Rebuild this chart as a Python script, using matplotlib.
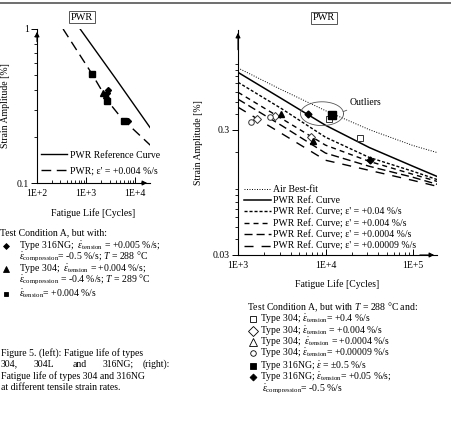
import numpy as np
import matplotlib
matplotlib.use("Agg")
import matplotlib.pyplot as plt
from matplotlib.lines import Line2D
from matplotlib.ticker import FixedLocator, NullFormatter, LogLocator

plt.rcParams['font.family'] = ['Liberation Serif', 'DejaVu Serif']
plt.rcParams['mathtext.fontset'] = 'custom'
plt.rcParams['mathtext.rm'] = 'Liberation Serif'
plt.rcParams['mathtext.it'] = 'Liberation Serif:italic'
plt.rcParams['lines.scale_dashes'] = False
FS = 7

# ---------------- left panel data (cycles, strain amplitude %) ----------------
left_ref_N = [755, 3908, 20230]
left_ref_amp = [1.0, 0.481, 0.228]
left_rate_N = [340, 1306, 2851, 5346, 20230]
left_rate_amp = [1.0, 0.513, 0.336, 0.262, 0.176]

left_sq_N = [1324, 2684, 5970]
left_sq_amp = [0.51, 0.341, 0.253]
left_tri_N = [2224, 2500]
left_tri_amp = [0.384, 0.37]
left_dia_N = [2850, 2700, 7195]
left_dia_amp = [0.40, 0.385, 0.253]

# ---------------- right panel data ----------------
right_N = [1000, 3162, 10000, 31623, 100000, 188000]
air_amp = [0.931, 0.623, 0.425, 0.300, 0.224, 0.197]
ref_amp = [0.859, 0.529, 0.325, 0.216, 0.153, 0.127]
rate004_amp = [0.716, 0.440, 0.261, 0.180, 0.1395, 0.120]
rate0004_amp = [0.596, 0.367, 0.2256, 0.1675, 0.132, 0.116]
rate00004_amp = [0.525, 0.323, 0.195, 0.153, 0.125, 0.110]
rate000009_amp = [0.453, 0.279, 0.171, 0.142, 0.118, 0.106]

osq_N = [10960, 24770]
osq_amp = [0.367, 0.259]
odia_N = [1649, 2649, 6823]
odia_amp = [0.367, 0.387, 0.264]
ocir_N = [1409, 2321]
ocir_amp = [0.347, 0.380]
ftri_N = [3099, 7194]
ftri_amp = [0.402, 0.245]
fsq_N = [11860]
fsq_amp = [0.395]
fdia_N = [6310, 32280]
fdia_amp = [0.402, 0.173]

W, H = 452, 423
fig = plt.figure(figsize=(W / 100, H / 100), dpi=100)


def fx(px):
    return px / W


def fy(py):
    return 1 - py / H


def style_axes(ax):
    for s in ['top', 'right']:
        ax.spines[s].set_visible(False)
    for s in ['left', 'bottom']:
        ax.spines[s].set_linewidth(0.8)
    ax.tick_params(axis='x', which='both', direction='in', labelsize=FS, pad=4)
    ax.tick_params(axis='y', which='both', direction='out', labelsize=FS, pad=2)
    ax.tick_params(which='major', length=4, width=0.7)
    ax.tick_params(which='minor', length=2.5, width=0.6)
    ax.patch.set_alpha(0)
    arr = dict(arrowstyle='-|>', color='black', lw=0.8, mutation_scale=7)
    ax.annotate('', xy=(1.0, 0), xytext=(0.9, 0), xycoords='axes fraction', arrowprops=arr)
    ax.annotate('', xy=(0, 1.0), xytext=(0, 0.9), xycoords='axes fraction', arrowprops=arr)


# ================= left panel =================
axL = fig.add_axes([fx(37), fy(183), fx(150) - fx(37), fy(29) - fy(183)])
axL.set_xscale('log')
axL.set_yscale('log')
axL.set_xlim(100, 10 ** 4.3)
axL.set_ylim(0.1, 1.0)
axL.plot(left_ref_N, left_ref_amp, color='black', lw=1.0, label='PWR Reference Curve')
axL.plot(left_rate_N, left_rate_amp, color='black', lw=1.0, dashes=(7, 4),
         label="PWR; ε' = +0.004 %/s")
axL.plot(left_sq_N, left_sq_amp, 's', color='black', ms=4)
axL.plot(left_tri_N, left_tri_amp, '^', color='black', ms=4)
axL.plot(left_dia_N, left_dia_amp, 'D', color='black', ms=3)
axL.set_xticks([100, 1000, 10000])
axL.set_xticklabels(['1E+2', '1E+3', '1E+4'])
axL.set_yticks([0.1, 1.0])
axL.set_yticklabels(['0.1', '1'])
axL.xaxis.set_minor_locator(LogLocator(base=10, subs=np.arange(2, 10)))
axL.xaxis.set_minor_formatter(NullFormatter())
axL.yaxis.set_minor_locator(LogLocator(base=10, subs=np.arange(2, 10)))
axL.yaxis.set_minor_formatter(NullFormatter())
style_axes(axL)
axL.set_xlabel('Fatigue Life [Cycles]', fontsize=FS)
axL.xaxis.set_label_coords(0.5, -0.165)
axL.set_ylabel('Strain Amplitude [%]', fontsize=FS)
axL.yaxis.set_label_coords(-0.24, 0.5)
axL.legend(loc='center left', bbox_to_anchor=(fx(41), fy(163)), bbox_transform=fig.transFigure,
           frameon=False, fontsize=FS, handlelength=2.7, handletextpad=0.25,
           labelspacing=0.65, borderpad=0, borderaxespad=0)

# ================= right panel =================
axR = fig.add_axes([fx(238), fy(255), fx(437) - fx(238), fy(30) - fy(255)])
axR.set_xscale('log')
axR.set_yscale('log')
axR.set_xlim(1000, 10 ** 5.274)
axR.set_ylim(0.03, 1.87)
axR.plot(right_N, air_amp, color='black', lw=0.7, dashes=(0.7, 1.1), label='Air Best-fit')
axR.plot(right_N, ref_amp, color='black', lw=1.1, label='PWR Ref. Curve')
axR.plot(right_N, rate004_amp, color='black', lw=1.0, dashes=(2.2, 1.4),
         label="PWR Ref. Curve; ε' = +0.04 %/s")
axR.plot(right_N, rate0004_amp, color='black', lw=1.0, dashes=(3.6, 2.9),
         label="PWR Ref. Curve; ε' = +0.004 %/s")
axR.plot(right_N, rate00004_amp, color='black', lw=1.0, dashes=(5.8, 2.9),
         label="PWR Ref. Curve; ε' = +0.0004 %/s")
axR.plot(right_N, rate000009_amp, color='black', lw=1.0, dashes=(6.5, 5.8),
         label="PWR Ref. Curve; ε' = +0.00009 %/s")

axR.plot(osq_N, osq_amp, 's', mfc='white', mec='#333333', mew=0.7, ms=5)
axR.plot(odia_N, odia_amp, 'D', mfc='white', mec='#333333', mew=0.7, ms=4)
axR.plot(ocir_N, ocir_amp, 'o', mfc='white', mec='#333333', mew=0.7, ms=4)
axR.plot(ftri_N, ftri_amp, '^', color='black', ms=5)
axR.plot(fsq_N, fsq_amp, 's', color='black', ms=6)
axR.plot(fdia_N, fdia_amp, 'D', color='black', ms=3.5)

# outliers ellipse and label
t = np.linspace(0, 2 * np.pi, 200)
cx, cy, ax_w, ax_h = 3.96, np.log10(0.402), 0.246, 0.095
axR.plot(10 ** (cx + ax_w * np.cos(t)), 10 ** (cy + ax_h * np.sin(t)), color='#555555', lw=0.6)
axR.annotate('Outliers', xy=(10 ** 4.2, 0.417), xytext=(10 ** 4.27, 0.49), fontsize=FS,
             va='center', ha='left',
             arrowprops=dict(arrowstyle='-', color='#555555', lw=0.6, shrinkA=0, shrinkB=0))

axR.set_xticks([1000, 10000, 100000])
axR.set_xticklabels(['1E+3', '1E+4', '1E+5'])
axR.yaxis.set_major_locator(FixedLocator([0.03, 0.3]))
axR.set_yticklabels(['0.03', '0.3'])
axR.xaxis.set_minor_locator(LogLocator(base=10, subs=np.arange(2, 10)))
axR.xaxis.set_minor_formatter(NullFormatter())
axR.yaxis.set_minor_locator(LogLocator(base=10, subs=np.arange(1, 10)))
axR.yaxis.set_minor_formatter(NullFormatter())
style_axes(axR)
axR.set_xlabel('Fatigue Life [Cycles]', fontsize=FS)
axR.xaxis.set_label_coords(0.5, -0.11)
axR.set_ylabel('Strain Amplitude [%]', fontsize=FS)
axR.yaxis.set_label_coords(-0.175, 0.5)
axR.legend(loc='center left', bbox_to_anchor=(fx(244), fy(218)), bbox_transform=fig.transFigure,
           frameon=False, fontsize=FS, handlelength=2.8, handletextpad=0.2,
           labelspacing=0.23, borderpad=0, borderaxespad=0)

# ================= boxed titles & page rule =================
box = dict(boxstyle='square,pad=0.15', fc='white', ec='#555555', lw=0.7)
fig.text(fx(82), fy(17), 'PWR', fontsize=7.5, ha='center', va='center', bbox=box)
fig.text(fx(324), fy(18), 'PWR', fontsize=7.5, ha='center', va='center', bbox=box)
fig.add_artist(Line2D([0, 1], [fy(3), fy(3)], transform=fig.transFigure, color='#555555', lw=1.2))

# ================= text blocks =================
eps = r'$\dot{\varepsilon}$'
ten = r'$\dot{\varepsilon}_{\rm tension}$'
comp = r'$\dot{\varepsilon}_{\rm compression}$'


def mark(px, py, m, ms, filled=True):
    fig.add_artist(Line2D([fx(px)], [fy(py)], marker=m, ms=ms, transform=fig.transFigure,
                          mfc='black' if filled else 'white', mec='black', mew=0.6, ls='none'))


def txt(px, py, s):
    fig.text(fx(px), fy(py), s, fontsize=FS, ha='left', va='center')


txt(0, 233, 'Test Condition A, but with:')
mark(6, 246, 'D', 3)
txt(19, 246, 'Type 316NG;  ' + ten + ' = +0.005 %/s;')
txt(19, 257, comp + '= -0.5 %/s; $T$ = 288 °C')
mark(6, 269, '^', 4)
txt(19, 269, 'Type 304;  ' + ten + ' = +0.004 %/s;')
txt(19, 280, comp + ' = -0.4 %/s; $T$ = 289 °C')
mark(6, 294, 's', 3)
txt(19, 294, ten + '= +0.004 %/s')

txt(1, 353, 'Figure 5. (left): Fatigue life of types')
for word, px in zip(['304,', '304L', 'and', '316NG;', '(right):'], [1, 34, 73, 103, 143]):
    txt(px, 364, word)
txt(1, 376, 'Fatigue life of types 304 and 316NG')
txt(1, 387, 'at different tensile strain rates.')

txt(247, 307, 'Test Condition A, but with $T$ = 288 °C and:')
mark(253, 319, 's', 4, filled=False)
txt(260, 319, 'Type 304; ' + ten + '= +0.4 %/s')
mark(253, 331, 'D', 5, filled=False)
txt(260, 331, 'Type 304; ' + ten + ' = +0.004 %/s')
mark(253, 342, '^', 6, filled=False)
txt(260, 342, 'Type 304;  ' + ten + ' = +0.0004 %/s')
mark(253, 353, 'o', 4, filled=False)
txt(260, 353, 'Type 304; ' + ten + '= +0.00009 %/s')
mark(253, 366, 's', 4)
txt(260, 366, 'Type 316NG; ' + eps + ' = ±0.5 %/s')
mark(253, 377, 'D', 3.5)
txt(260, 377, 'Type 316NG; ' + ten + '= +0.05 %/s;')
txt(262, 389, comp + '= -0.5 %/s')

fig.savefig('out.png', dpi=100)
